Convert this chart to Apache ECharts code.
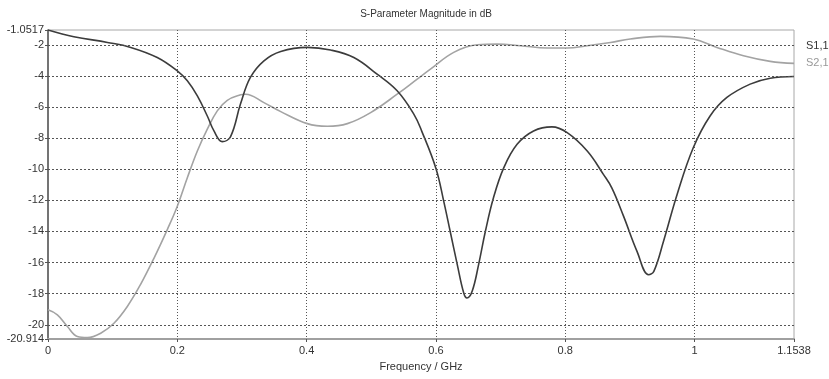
<!DOCTYPE html>
<html>
<head>
<meta charset="utf-8">
<script src="https://cdn.jsdelivr.net/npm/echarts@6/dist/echarts.min.js"></script>
<style>html,body{margin:0;padding:0;background:#fff}#c{width:829px;height:379px}</style>
</head>
<body>
<div id="c"></div>
<script>
var title = 'S-Parameter Magnitude in dB';
var xName = 'Frequency / GHz';
var seriesNames = ['S1,1', 'S2,1'];
var xMin = 0, xMax = 1.1538, xStep = 0.2;
var yMin = -20.914, yMax = -1.0517;
var yTicks = [-20.914, -20, -18, -16, -14, -12, -10, -8, -6, -4, -2, -1.0517];
var yGrid = [-20, -18, -16, -14, -12, -10, -8, -6, -4, -2];

var s11Freq = [0, 0.04, 0.092, 0.128, 0.169, 0.2, 0.2155, 0.231, 0.2464, 0.2567, 0.2695, 0.2824, 0.2978, 0.313, 0.334, 0.36, 0.401, 0.437, 0.473, 0.509, 0.54, 0.566, 0.578, 0.6, 0.612, 0.622, 0.633, 0.643, 0.648, 0.656, 0.666, 0.6765, 0.689, 0.705, 0.7255, 0.751, 0.7795, 0.803, 0.834, 0.859, 0.872, 0.89, 0.911, 0.929, 0.937, 0.952, 0.973, 0.998, 1.024, 1.05, 1.086, 1.117, 1.1538];
var s11Db = [-1.05, -1.48, -1.85, -2.17, -2.82, -3.68, -4.32, -5.29, -6.58, -7.54, -8.23, -7.9, -5.8, -4.1, -3.03, -2.43, -2.17, -2.34, -2.82, -3.89, -4.96, -6.47, -7.55, -9.95, -12.05, -13.99, -16.13, -17.96, -18.28, -17.85, -16.13, -13.99, -11.84, -9.9, -8.4, -7.54, -7.28, -7.65, -8.83, -10.33, -11.2, -13.0, -15.28, -16.78, -16.57, -14.63, -11.62, -8.62, -6.58, -5.39, -4.53, -4.15, -4.04];

var s21Freq = [0, 0.0145, 0.03, 0.0454, 0.0609, 0.0815, 0.102, 0.1227, 0.143, 0.164, 0.1845, 0.2, 0.2155, 0.231, 0.2464, 0.2618, 0.2773, 0.2978, 0.3056, 0.334, 0.36, 0.401, 0.432, 0.463, 0.499, 0.54, 0.571, 0.5915, 0.6275, 0.664, 0.6946, 0.7306, 0.772, 0.803, 0.834, 0.87, 0.9006, 0.947, 0.998, 1.0346, 1.0757, 1.117, 1.1538];
var s21Db = [-19.04, -19.36, -20.11, -20.75, -20.82, -20.54, -19.9, -18.82, -17.42, -15.71, -13.88, -12.38, -10.55, -8.83, -7.43, -6.25, -5.57, -5.22, -5.18, -5.72, -6.3, -7.07, -7.24, -7.07, -6.36, -5.18, -4.21, -3.57, -2.49, -2.0, -1.96, -2.06, -2.21, -2.21, -2.06, -1.85, -1.63, -1.46, -1.63, -2.17, -2.71, -3.07, -3.2];

function zip(a, b) { return a.map(function (v, i) { return [v, b[i]]; }); }

var colors = ['#3c3c3c', '#a3a3a3'];
var font = 'Liberation Sans';

var chart = echarts.init(document.getElementById('c'), null, {renderer: 'canvas'});
chart.setOption({
  animation: false,
  backgroundColor: '#fff',
  title: {
    text: title, left: 421, top: 4, textAlign: 'center',
    textStyle: {fontFamily: font, fontSize: 10, fontWeight: 'normal', color: '#333'}
  },
  legend: {
    orient: 'vertical', left: 801, top: 34, icon: 'none', itemWidth: 0, itemGap: 4,
    selectedMode: false,
    data: [
      {name: seriesNames[0], textStyle: {color: '#333'}},
      {name: seriesNames[1], textStyle: {color: '#999'}}
    ],
    textStyle: {fontFamily: font, fontSize: 11, padding: [0, 0, 0, -5]}
  },
  grid: {left: 48, top: 30, right: 35, bottom: 40, show: true, borderColor: '#a8a8a8', borderWidth: 1},
  xAxis: {
    type: 'value', min: xMin, max: xMax, interval: xStep,
    name: xName, nameLocation: 'middle', nameGap: 22,
    nameTextStyle: {fontFamily: font, fontSize: 11, color: '#333'},
    axisLine: {show: true, onZero: false, lineStyle: {color: '#a0a0a0', width: 2}},
    axisTick: {show: true, length: 3, inside: false, lineStyle: {color: '#555'}},
    axisLabel: {fontFamily: font, fontSize: 11, color: '#333', margin: 6, showMinLabel: true, showMaxLabel: true,
      formatter: function (v) { return String(v); }},
    splitLine: {show: true, showMinLine: false, showMaxLine: false, lineStyle: {color: '#555', type: [1, 2], width: 1}}
  },
  yAxis: {
    type: 'value', min: yMin, max: yMax,
    axisLine: {show: true, lineStyle: {color: '#555', width: 1.5}},
    axisTick: {show: true, length: 3, customValues: yTicks, lineStyle: {color: '#555'}},
    axisLabel: {fontFamily: font, fontSize: 11, color: '#333', margin: 4, customValues: yTicks,
      formatter: function (v) { return String(v); }},
    splitLine: {show: false}
  },
  series: [
    {name: seriesNames[0], type: 'line', data: zip(s11Freq, s11Db), showSymbol: false, smooth: 0.4,
      lineStyle: {color: colors[0], width: 1.6}, itemStyle: {color: colors[0]}, z: 3,
      markLine: {
        silent: true, symbol: 'none', label: {show: false},
        lineStyle: {color: '#555', type: [2, 2], width: 1},
        data: yGrid.map(function (v) { return {yAxis: v}; })
      }},
    {name: seriesNames[1], type: 'line', data: zip(s21Freq, s21Db), showSymbol: false, smooth: 0.4,
      lineStyle: {color: colors[1], width: 1.6}, itemStyle: {color: colors[1]}, z: 2}
  ]
});
</script>
</body>
</html>
